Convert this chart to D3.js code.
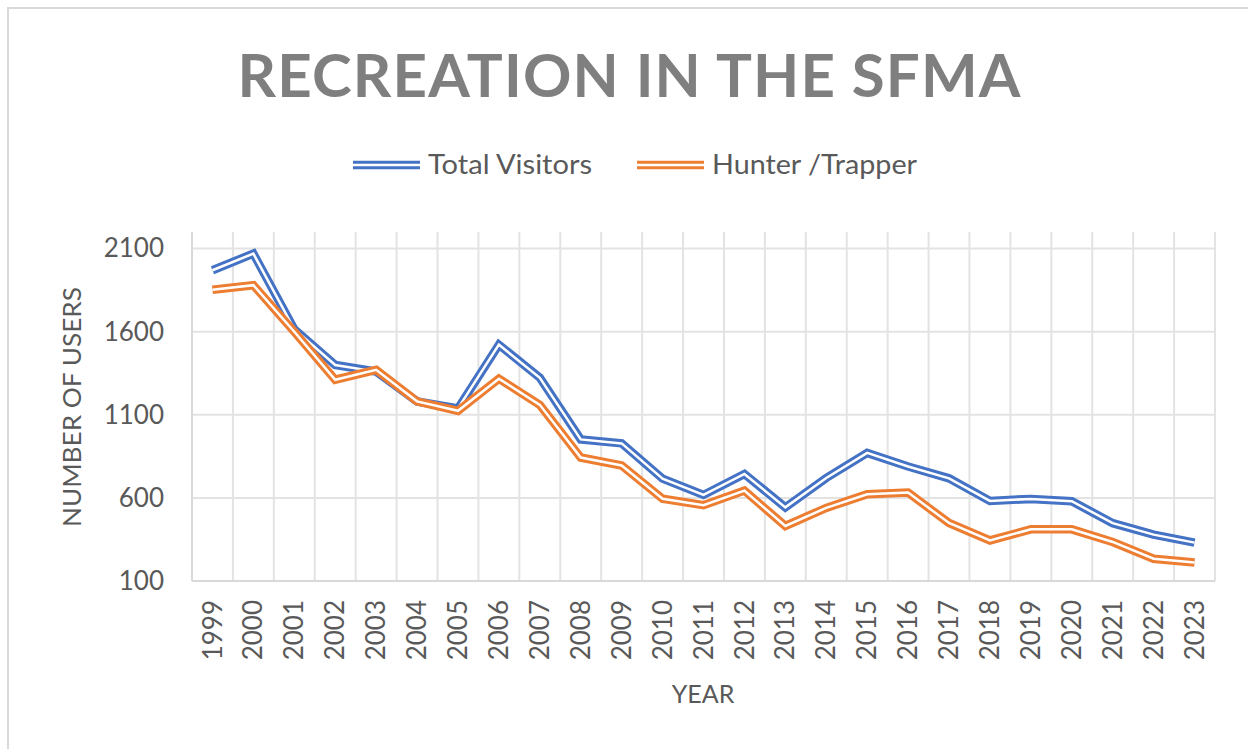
<!DOCTYPE html>
<html>
<head>
<meta charset="utf-8">
<script src="https://cdn.jsdelivr.net/npm/d3@7"></script>
<style>
  html, body { margin: 0; padding: 0; background: #fff; }
  svg { display: block; }
</style>
</head>
<body>
<svg id="chart" width="1248" height="749"></svg>
<script>
const years = ["1999","2000","2001","2002","2003","2004","2005","2006","2007","2008","2009","2010","2011","2012","2013","2014","2015","2016","2017","2018","2019","2020","2021","2022","2023"];
const totalVisitors = [1970, 2070, 1615, 1400, 1360, 1180, 1138, 1522, 1323, 952, 928, 716, 618, 744, 543, 720, 871, 789, 718, 582, 594, 580, 448, 379, 331];
const hunterTrapper = [1853, 1880, 1600, 1311, 1371, 1181, 1124, 1317, 1160, 843, 795, 595, 556, 644, 431, 540, 622, 632, 449, 344, 411, 411, 335, 234, 211];
const yTicks = [100, 600, 1100, 1600, 2100];
const seriesNames = ["Total Visitors", "Hunter /Trapper"];
const seriesColors = ["#4472C4", "#ED7D31"];
const titleText = "RECREATION IN THE SFMA";
const xTitle = "YEAR";
const yTitle = "NUMBER OF USERS";

const svg = d3.select("#chart");
const FONT = "Lato, 'Open Sans', sans-serif";
const TXT = "#595959";
const GRID = "#e3e3e3";

const plot = {left: 192, right: 1215, top: 232, bottom: 581};

// chart border (top + left visible)
svg.append("path").attr("d", "M8,749 L8,8 L1248,8").attr("fill", "none")
  .attr("stroke", "#d9d9d9").attr("stroke-width", 2);

const x = d3.scaleBand().domain(years).range([plot.left, plot.right]).paddingInner(0).paddingOuter(0);
const y = d3.scaleLinear().domain([100, 2200]).range([plot.bottom, plot.top]);

// horizontal gridlines
svg.append("g").selectAll("line").data(yTicks.slice(1)).join("line")
  .attr("x1", plot.left).attr("x2", plot.right)
  .attr("y1", d => y(d)).attr("y2", d => y(d))
  .attr("stroke", GRID).attr("stroke-width", 2);

// vertical gridlines at category boundaries
const bounds = years.map(d => x(d)).concat([plot.right]);
svg.append("g").selectAll("line").data(bounds.slice(1)).join("line")
  .attr("x1", d => d).attr("x2", d => d)
  .attr("y1", plot.top).attr("y2", plot.bottom)
  .attr("stroke", GRID).attr("stroke-width", 2);

// left axis line & bottom axis line
svg.append("line").attr("x1", plot.left).attr("x2", plot.left).attr("y1", plot.top).attr("y2", plot.bottom)
  .attr("stroke", "#d9d9d9").attr("stroke-width", 2);
svg.append("line").attr("x1", plot.left).attr("x2", plot.right).attr("y1", plot.bottom).attr("y2", plot.bottom)
  .attr("stroke", "#d9d9d9").attr("stroke-width", 2);

// y axis labels
const yAxis = d3.axisLeft(y).tickValues(yTicks).tickSize(0).tickPadding(28).tickFormat(d3.format("d"));
const gy = svg.append("g").attr("transform", `translate(${plot.left},0)`).call(yAxis);
gy.select(".domain").remove();
gy.selectAll("text").attr("font-family", FONT).attr("font-size", 26).attr("fill", TXT);

// x axis labels
const xAxis = d3.axisBottom(x).tickSize(0).tickPadding(0);
const gx = svg.append("g").attr("transform", `translate(0,${plot.bottom})`).call(xAxis);
gx.select(".domain").remove();
gx.selectAll("text")
  .attr("font-family", FONT).attr("font-size", 26).attr("fill", TXT)
  .attr("transform", "rotate(-90)")
  .attr("text-anchor", "end")
  .attr("x", -19).attr("y", 0).attr("dy", "0.35em");

// lines (compound double line)
const line = d3.line().x((d, i) => x(years[i]) + x.bandwidth() / 2).y(d => y(d));
[totalVisitors, hunterTrapper].forEach((data, k) => {
  const g = svg.append("g");
  g.append("path").attr("d", line(data)).attr("fill", "none")
    .attr("stroke", seriesColors[k]).attr("stroke-width", 8.5).attr("stroke-linejoin", "miter");
  g.append("path").attr("d", line(data)).attr("fill", "none")
    .attr("stroke", "#fff").attr("stroke-width", 2.5).attr("stroke-linejoin", "miter");
});

// title
svg.append("text").attr("x", 629).attr("y", 97).attr("text-anchor", "middle")
  .attr("font-family", FONT).attr("font-weight", "bold").attr("font-size", 60)
  .attr("fill", "#7f7f7f").attr("textLength", 783).attr("lengthAdjust", "spacing")
  .text(titleText);

// legend
const legendItems = [
  {name: seriesNames[0], color: seriesColors[0], lx: 353, tx: 428, w: 164},
  {name: seriesNames[1], color: seriesColors[1], lx: 637, tx: 712, w: 205}
];
legendItems.forEach(it => {
  const ly = 165;
  svg.append("line").attr("x1", it.lx).attr("x2", it.lx + 67).attr("y1", ly).attr("y2", ly)
    .attr("stroke", it.color).attr("stroke-width", 8.5);
  svg.append("line").attr("x1", it.lx).attr("x2", it.lx + 67).attr("y1", ly).attr("y2", ly)
    .attr("stroke", "#fff").attr("stroke-width", 2.5);
  svg.append("text").attr("x", it.tx).attr("y", ly + 9)
    .attr("font-family", FONT).attr("font-size", 26).attr("fill", TXT)
    .attr("textLength", it.w).attr("lengthAdjust", "spacingAndGlyphs").text(it.name);
});

// axis titles
svg.append("text").attr("x", 703).attr("y", 703).attr("text-anchor", "middle")
  .attr("font-family", FONT).attr("font-size", 25).attr("fill", TXT).text(xTitle);
svg.append("text").attr("transform", "translate(81,407) rotate(-90)").attr("text-anchor", "middle")
  .attr("font-family", FONT).attr("font-size", 25).attr("fill", TXT)
  .attr("textLength", 240).attr("lengthAdjust", "spacingAndGlyphs").text(yTitle);
</script>
</body>
</html>
